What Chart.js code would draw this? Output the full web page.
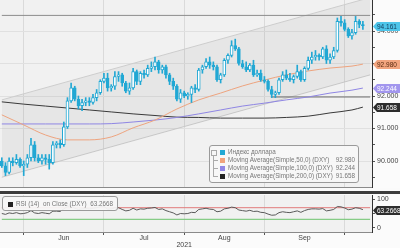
<!DOCTYPE html>
<html>
<head>
<meta charset="utf-8">
<script src="https://cdn.jsdelivr.net/npm/chart.js@4.4.1/dist/chart.umd.min.js"></script>
<style>
body { margin: 0; background: #fafafa; }
#wrap { position: relative; width: 400px; height: 248px; overflow: hidden; font-family: "Liberation Sans", Arial, sans-serif; }
canvas { position: absolute; left: 0; }
#sep { position: absolute; left: 0; top: 191px; width: 400px; height: 3px; background: #3c3c3c; }
.box { position: absolute; border: 1px solid #9a9a9a; border-radius: 3px; background: rgba(246,246,246,0.94); box-sizing: border-box; }
.row { position: absolute; left: 0; right: 3px; height: 8px; line-height: 8px; font-size: 6.3px; color: #777; white-space: pre; }
.sw { position: absolute; width: 5px; height: 5px; top: 1.5px; }
.tx { position: absolute; left: 18px; }
.val { position: absolute; right: 0; }
.tree { position: absolute; border-color: #aaa; border-style: solid; border-width: 0; }
</style>
</head>
<body>
<div id="wrap">
  <canvas id="main" width="400" height="188" style="top:0"></canvas>
  <div id="sep"></div>
  <canvas id="rsi" width="400" height="53" style="top:195px"></canvas>

  <div class="box" style="left:209px;top:145px;width:150px;height:38px">
    <div class="tree" style="left:1px;top:4px;width:4px;height:4px;border-width:1px;"></div>
    <div class="tree" style="left:3px;top:10px;width:5px;height:21px;border-left-width:1px;"></div>
    <div class="tree" style="left:3px;top:14px;width:5px;height:0;border-top-width:1px;"></div>
    <div class="tree" style="left:3px;top:22px;width:5px;height:0;border-top-width:1px;"></div>
    <div class="tree" style="left:3px;top:30px;width:5px;height:0;border-top-width:1px;"></div>
    <div class="row" style="top:2px"><span class="sw" style="left:10px;background:#22a8d4"></span><span class="tx">Индекс доллара</span></div>
    <div class="row" style="top:10px"><span class="sw" style="left:10px;background:#f0a37d"></span><span class="tx">Moving Average(Simple,50,0) (DXY)</span><span class="val" id="v50"></span></div>
    <div class="row" style="top:18px"><span class="sw" style="left:10px;background:#9186e6"></span><span class="tx">Moving Average(Simple,100,0) (DXY)</span><span class="val" id="v100"></span></div>
    <div class="row" style="top:26px"><span class="sw" style="left:10px;background:#222"></span><span class="tx">Moving Average(Simple,200,0) (DXY)</span><span class="val" id="v200"></span></div>
  </div>

  <div class="box" style="left:2px;top:196px;width:116px;height:15px">
    <div class="row" style="top:3px"><span class="sw" style="left:5px;background:#222"></span><span class="tx" style="left:13px" id="rsiText"></span></div>
  </div>
</div>

<script>
// trading days, 24 May - 12 Oct 2021
const days = [
    '24.05','25.05','26.05','27.05','28.05','31.05',
    '01.06','02.06','03.06','04.06','07.06','08.06','09.06','10.06','11.06','14.06','15.06','16.06','17.06','18.06','21.06','22.06','23.06','24.06','25.06','28.06','29.06','30.06',
    '01.07','02.07','05.07','06.07','07.07','08.07','09.07','12.07','13.07','14.07','15.07','16.07','19.07','20.07','21.07','22.07','23.07','26.07','27.07','28.07','29.07','30.07',
    '02.08','03.08','04.08','05.08','06.08','09.08','10.08','11.08','12.08','13.08','16.08','17.08','18.08','19.08','20.08','23.08','24.08','25.08','26.08','27.08','30.08','31.08',
    '01.09','02.09','03.09','06.09','07.09','08.09','09.09','10.09','13.09','14.09','15.09','16.09','17.09','20.09','21.09','22.09','23.09','24.09','27.09','28.09','29.09','30.09',
    '01.10','04.10','05.10','06.10','07.10','08.10','11.10','12.10'
];

const open = [
    90.00, 89.85, 89.65, 90.00, 89.95, 90.05, 89.85, 89.90, 90.10, 90.50,
    90.10, 90.00, 90.10, 90.05, 89.95, 90.50, 90.55, 90.50, 91.05, 91.85,
    92.25, 91.90, 91.70, 91.80, 91.85, 91.80, 91.95, 92.10, 92.45, 92.55,
    92.25, 92.30, 92.60, 92.65, 92.40, 92.15, 92.25, 92.75, 92.45, 92.70,
    92.65, 92.85, 92.90, 93.05, 92.80, 92.90, 92.65, 92.45, 92.30, 91.90,
    92.10, 92.00, 92.05, 92.25, 92.20, 92.80, 92.90, 93.05, 92.95, 92.90,
    92.50, 92.65, 93.10, 93.25, 93.55, 93.45, 93.00, 92.90, 92.80, 92.95,
    92.65, 92.70, 92.50, 92.45, 92.20, 92.05, 92.10, 92.50, 92.65, 92.55,
    92.50, 92.60, 92.75, 92.50, 92.85, 93.10, 93.20, 93.25, 93.20, 93.45,
    93.10, 93.20, 93.40, 94.30, 94.25, 94.05, 93.85, 93.95, 94.30, 94.20
];
const high = [
    90.10, 89.95, 90.10, 90.10, 90.20, 90.10, 90.00, 90.20, 90.70, 90.60,
    90.20, 90.20, 90.20, 90.20, 90.60, 90.60, 90.65, 91.20, 91.95, 92.40,
    92.30, 92.00, 91.90, 91.95, 91.95, 92.05, 92.20, 92.50, 92.70, 92.70,
    92.35, 92.75, 92.75, 92.70, 92.45, 92.40, 92.85, 92.80, 92.75, 92.80,
    92.95, 93.05, 93.20, 93.10, 92.95, 92.95, 92.70, 92.55, 92.35, 92.20,
    92.15, 92.10, 92.30, 92.35, 92.85, 92.95, 93.15, 93.20, 93.05, 92.95,
    92.70, 93.15, 93.30, 93.70, 93.75, 93.50, 93.10, 93.05, 93.00, 93.10,
    92.80, 92.80, 92.60, 92.50, 92.30, 92.15, 92.55, 92.75, 92.80, 92.70,
    92.65, 92.95, 92.80, 92.90, 93.20, 93.35, 93.40, 93.30, 93.50, 93.55,
    93.30, 93.50, 94.40, 94.45, 94.35, 94.10, 94.05, 94.45, 94.35, 94.30
];
const low = [
    89.80, 89.55, 89.60, 89.85, 89.90, 89.80, 89.55, 89.80, 90.00, 90.00,
    89.95, 89.90, 89.90, 89.75, 89.90, 90.40, 90.40, 90.45, 91.00, 91.80,
    91.85, 91.60, 91.55, 91.70, 91.70, 91.75, 91.85, 92.05, 92.40, 92.15,
    92.15, 92.20, 92.45, 92.30, 92.10, 92.05, 92.20, 92.35, 92.35, 92.55,
    92.60, 92.75, 92.80, 92.70, 92.70, 92.55, 92.35, 92.20, 91.85, 91.80,
    91.95, 91.90, 91.80, 92.10, 92.15, 92.70, 92.85, 92.85, 92.80, 92.45,
    92.40, 92.60, 93.00, 93.20, 93.40, 92.95, 92.85, 92.75, 92.75, 92.60,
    92.60, 92.45, 92.40, 92.15, 91.95, 91.95, 92.05, 92.45, 92.50, 92.45,
    92.40, 92.55, 92.45, 92.45, 92.80, 93.00, 93.10, 93.10, 93.15, 93.00,
    93.00, 93.15, 93.35, 94.15, 94.00, 93.80, 93.75, 93.90, 94.10, 94.05
];
const close = [
    89.85, 89.65, 90.00, 89.95, 90.05, 89.85, 89.90, 90.10, 90.50, 90.10,
    90.00, 90.10, 90.05, 89.95, 90.50, 90.55, 90.50, 91.05, 91.85, 92.25,
    91.90, 91.70, 91.80, 91.85, 91.80, 91.95, 92.10, 92.45, 92.55, 92.25,
    92.30, 92.60, 92.65, 92.40, 92.15, 92.25, 92.75, 92.45, 92.70, 92.65,
    92.85, 92.90, 93.05, 92.80, 92.90, 92.65, 92.45, 92.30, 91.90, 92.10,
    92.00, 92.05, 92.25, 92.20, 92.80, 92.90, 93.05, 92.95, 92.90, 92.50,
    92.65, 93.10, 93.25, 93.55, 93.45, 93.00, 92.90, 92.80, 92.95, 92.65,
    92.70, 92.50, 92.45, 92.20, 92.05, 92.10, 92.50, 92.65, 92.55, 92.50,
    92.60, 92.75, 92.50, 92.85, 93.10, 93.20, 93.25, 93.20, 93.45, 93.10,
    93.20, 93.40, 94.30, 94.25, 94.05, 93.85, 93.95, 94.30, 94.20, 94.161
];

// moving averages, every few days
const maDays = ['24.05','01.06','09.06','17.06','25.06','05.07','13.07','21.07','29.07','06.08','16.08','24.08','01.09','09.09','17.09','27.09','05.10','08.10'];
const ma50  = [91.42, 91.11, 90.80, 90.65, 90.65, 90.74, 91.02, 91.26, 91.60, 91.88, 92.09, 92.31, 92.49, 92.65, 92.77, 92.86, 92.92, 92.980];
const ma100 = [91.14, 91.14, 91.14, 91.14, 91.14, 91.15, 91.20, 91.26, 91.34, 91.45, 91.57, 91.69, 91.78, 91.88, 91.97, 92.09, 92.18, 92.244];
const ma200 = [91.82, 91.75, 91.69, 91.63, 91.57, 91.51, 91.45, 91.40, 91.35, 91.34, 91.32, 91.32, 91.32, 91.34, 91.38, 91.48, 91.57, 91.658];

// trend channel and level lines
const edgeDays = ['24.05', '12.10'];
const chanUpper = [91.88, 95.03];
const chanLower = [89.50, 92.65];
const topLevel = 94.48;
const supportDays = ['03.09', '12.10'];
const supportLevel = 91.97;

const rsi = [
    50, 47, 52, 50, 53, 49, 50, 53, 60, 52,
    50, 53, 51, 49, 58, 58, 57, 66, 74, 77,
    68, 64, 66, 67, 66, 68, 70, 73, 74, 65,
    66, 70, 70, 64, 59, 61, 68, 62, 66, 65,
    68, 69, 71, 64, 66, 60, 56, 52, 45, 50,
    49, 50, 54, 53, 64, 66, 68, 65, 64, 56,
    58, 66, 68, 72, 70, 62, 60, 58, 61, 57,
    58, 54, 53, 48, 44, 45, 53, 56, 54, 53,
    56, 59, 54, 60, 64, 66, 66, 65, 67, 59,
    61, 64, 74, 73, 69, 63, 65, 70, 68, 63.2668
];
const rsiHigh = 70;
const rsiLow = 30;

const mainTicks = [89.5, 90, 90.5, 91, 91.5, 92, 92.5, 93, 93.5, 94, 94.5];
const rsiTicks = [0, 50, 100];
const monthStarts = ['01.06', '01.07', '02.08', '01.09', '01.10'];
const monthLabelDays = ['16.06', '16.07', '17.08', '16.09'];
const monthLabels = ['Jun', 'Jul', 'Aug', 'Sep'];
const yearDay = '02.08';
const yearLabel = '2021';

const cyan = '#22a8d4';
const clear = 'rgba(0,0,0,0)';
const pts = (xs, ys) => xs.map((x, i) => ({x: x, y: ys[i]}));

Chart.defaults.font.family = '"Liberation Sans", Arial, sans-serif';
Chart.defaults.font.size = 7;
Chart.defaults.color = '#444';

const bgPlugin = {
    id: 'bg',
    beforeDraw(chart) {
        const c = chart.ctx, a = chart.chartArea;
        c.save();
        c.fillStyle = '#fbfbfb';
        c.fillRect(0, 0, chart.width, chart.height);
        c.fillStyle = '#f1f1f1';
        c.fillRect(a.left, a.top, a.right - a.left, a.bottom - a.top);
        c.restore();
    }
};

// value tags on the right axis
function badgePlugin(items, digits) {
    return {
        id: 'badges',
        afterDraw(chart) {
            const c = chart.ctx, y = chart.scales.y, x0 = chart.chartArea.right + 1;
            c.save();
            c.font = '6.5px "Liberation Sans", Arial, sans-serif';
            c.textBaseline = 'middle';
            items.forEach(function (b) {
                const py = Math.round(y.getPixelForValue(b.value)) + 0.5;
                c.beginPath();
                c.moveTo(x0, py);
                c.lineTo(x0 + 4, py - 4.5);
                c.lineTo(chart.width, py - 4.5);
                c.lineTo(chart.width, py + 4.5);
                c.lineTo(x0 + 4, py + 4.5);
                c.closePath();
                c.fillStyle = b.bg;
                c.fill();
                c.fillStyle = b.fg;
                c.fillText(b.value.toFixed(digits), x0 + 4, py + 0.5);
            });
            c.restore();
        }
    };
}

// keep the plot area flush with the canvas edges
function noPad(s) {
    s.paddingTop = 0;
    s.paddingBottom = 0;
    s.paddingLeft = 0;
    s.paddingRight = 0;
}

const last = a => a[a.length - 1];
document.getElementById('v50').textContent = last(ma50).toFixed(3);
document.getElementById('v100').textContent = last(ma100).toFixed(3);
document.getElementById('v200').textContent = last(ma200).toFixed(3);
document.getElementById('rsiText').textContent = 'RSI (14)  on Close (DXY)  ' + last(rsi).toFixed(4);

const lineBase = {type: 'line', borderWidth: 1, pointRadius: 0, fill: false};

// Main price chart
new Chart(document.getElementById('main'), {
    type: 'bar',
    data: {
        labels: days,
        datasets: [
            {
                label: 'body',
                data: open.map((o, i) => [o, close[i]]),
                backgroundColor: open.map((o, i) => close[i] >= o ? '#ffffff' : cyan),
                borderColor: cyan,
                borderWidth: 1,
                borderSkipped: false,
                barThickness: 3,
                grouped: false,
                order: 0
            },
            {
                label: 'wick',
                data: low.map((l, i) => [l, high[i]]),
                backgroundColor: cyan,
                barThickness: 1,
                grouped: false,
                order: 1
            },
            Object.assign({}, lineBase, {label: 'MA50', data: pts(maDays, ma50), borderColor: '#eea47f', cubicInterpolationMode: 'monotone', order: 2}),
            Object.assign({}, lineBase, {label: 'MA100', data: pts(maDays, ma100), borderColor: '#8f86e4', cubicInterpolationMode: 'monotone', order: 2}),
            Object.assign({}, lineBase, {label: 'MA200', data: pts(maDays, ma200), borderColor: '#3a3a3a', cubicInterpolationMode: 'monotone', order: 2}),
            Object.assign({}, lineBase, {label: 'chanUp', data: pts(edgeDays, chanUpper), borderColor: '#cdcdcd', fill: '+1', backgroundColor: 'rgba(0,0,0,0.045)', order: 9}),
            Object.assign({}, lineBase, {label: 'chanLow', data: pts(edgeDays, chanLower), borderColor: '#cdcdcd', order: 9}),
            Object.assign({}, lineBase, {label: 'top', data: pts(edgeDays, [topLevel, topLevel]), borderColor: '#8c8c8c', order: 3}),
            Object.assign({}, lineBase, {label: 'support', data: pts(supportDays, [supportLevel, supportLevel]), borderColor: '#6a6a6a', order: 3})
        ]
    },
    options: {
        responsive: false,
        devicePixelRatio: 1,
        animation: false,
        events: [],
        layout: {padding: 0, autoPadding: false},
        plugins: {legend: {display: false}, tooltip: {enabled: false}},
        scales: {
            x: {
                offset: true,
                grid: {offset: false, drawTicks: false, color: c => monthStarts.includes(days[c.index]) ? '#dadada' : clear},
                ticks: {display: false},
                border: {display: true, color: '#8a8a8a'},
                afterFit: s => { s.height = 1; noPad(s); }
            },
            y: {
                position: 'right',
                min: 89.2,
                max: 94.954,
                afterBuildTicks: s => { s.ticks = mainTicks.map(v => ({value: v})); },
                afterFit: s => { s.width = 28; noPad(s); },
                grid: {
                    color: c => Number.isInteger(c.tick.value) ? '#e0e0e0' : clear,
                    tickColor: '#555',
                    tickLength: 3
                },
                border: {display: true, color: '#333'},
                ticks: {padding: 2, callback: v => Number.isInteger(v) ? v.toFixed(3) : ''}
            }
        }
    },
    plugins: [bgPlugin, badgePlugin([
        {value: last(close), bg: '#4ec5ea', fg: '#123a5a'},
        {value: last(ma50), bg: '#f2a57f', fg: '#5a2a10'},
        {value: last(ma100), bg: '#a296ee', fg: '#ffffff'},
        {value: last(ma200), bg: '#2d2d2d', fg: '#ffffff'}
    ], 3)]
});

// RSI panel
new Chart(document.getElementById('rsi'), {
    type: 'line',
    data: {
        labels: days,
        datasets: [
            Object.assign({}, lineBase, {label: 'RSI', data: rsi, borderColor: '#5a5a5a'}),
            Object.assign({}, lineBase, {label: 'high', data: pts(edgeDays, [rsiHigh, rsiHigh]), borderColor: '#e07a7a'}),
            Object.assign({}, lineBase, {label: 'low', data: pts(edgeDays, [rsiLow, rsiLow]), borderColor: '#6cc36c'})
        ]
    },
    options: {
        responsive: false,
        devicePixelRatio: 1,
        animation: false,
        events: [],
        layout: {padding: 0, autoPadding: false},
        plugins: {legend: {display: false}, tooltip: {enabled: false}},
        scales: {
            x: {
                offset: true,
                grid: {
                    offset: false,
                    color: c => monthStarts.includes(days[c.index]) ? '#dadada' : clear,
                    tickColor: c => monthStarts.includes(days[c.index]) ? '#555' : clear,
                    tickLength: 3
                },
                border: {display: true, color: '#8a8a8a'},
                ticks: {
                    autoSkip: false,
                    maxRotation: 0,
                    padding: 0,
                    font: {size: 7, lineHeight: 1},
                    callback: function (v, i) {
                        const d = days[i];
                        const m = monthLabelDays.indexOf(d);
                        if (m >= 0) return monthLabels[m];
                        if (d === yearDay) return ['', yearLabel];
                        return '';
                    }
                },
                afterFit: s => { s.height = 16; noPad(s); }
            },
            y: {
                position: 'right',
                min: -13.8,
                max: 113.8,
                afterBuildTicks: s => { s.ticks = rsiTicks.map(v => ({value: v})); },
                afterFit: s => { s.width = 28; noPad(s); },
                grid: {color: clear, tickColor: '#555', tickLength: 3},
                border: {display: true, color: '#333'},
                ticks: {padding: 2}
            }
        }
    },
    plugins: [bgPlugin, badgePlugin([
        {value: last(rsi), bg: '#2d2d2d', fg: '#ffffff'}
    ], 4)]
});
</script>
</body>
</html>
